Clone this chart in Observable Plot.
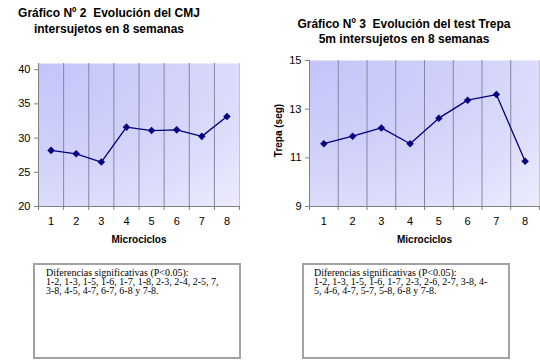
<!DOCTYPE html>
<html><head><meta charset="utf-8">
<script src="https://cdn.jsdelivr.net/npm/d3@7"></script>
<script src="https://cdn.jsdelivr.net/npm/@observablehq/plot@0.6"></script>
<style>
body{margin:0;background:#fff;}
#root{position:relative;width:540px;height:362px;overflow:hidden;background:#fff;font-family:"Liberation Sans",Arial,sans-serif;color:#000;}
#root svg{position:absolute;top:0;}
.title{position:absolute;font-weight:bold;font-size:12px;text-align:center;white-space:pre;}
.box{position:absolute;border:2px solid #a2a2a2;box-sizing:border-box;font-family:"Liberation Serif","Times New Roman",serif;font-size:10px;line-height:9.2px;white-space:pre;}
</style></head><body><div id="root"></div>
<script>
// ---- data ----
const categories = [1, 2, 3, 4, 5, 6, 7, 8];
const cmjValues = [28.2, 27.7, 26.5, 31.6, 31.1, 31.2, 30.25, 33.15];
const trepaValues = [11.58, 11.89, 12.23, 11.58, 12.63, 13.37, 13.6, 10.86];
const cmjTicks = [20, 25, 30, 35, 40];
const trepaTicks = [9, 11, 13, 15];
const cmjTitle = ["Gráfico Nº 2  Evolución del CMJ", "intersujetos en 8 semanas"];
const trepaTitle = ["Gráfico Nº 3  Evolución del test Trepa", "5m intersujetos en 8 semanas"];
const xLabel = "Microciclos";
const trepaYLabel = "Trepa (seg)";
const cmjNotes = ["Diferencias significativas (P<0.05):", "1-2, 1-3, 1-5, 1-6, 1-7, 1-8, 2-3, 2-4, 2-5, 7,", "3-8, 4-5, 4-7, 6-7, 6-8 y 7-8."];
const trepaNotes = ["Diferencias significativas (P<0.05):", "1-2, 1-3, 1-5, 1-6, 1-7, 2-3, 2-6, 2-7, 3-8, 4-", "5, 4-6, 4-7, 5-7, 5-8, 6-8 y 7-8."];

const root = document.getElementById("root");

function chart({values, yDomain, yTicks, margins, gradId, yLabel, left}) {
  const data = categories.map((c, i) => ({c, v: values[i]}));
  const bounds = [categories[0] - 0.5, ...categories.map(c => c + 0.5)];
  const inner = bounds.slice(1, -1);
  const marks = [
    Plot.frame({fill: `url(#${gradId})`, stroke: null}),
    Plot.ruleX(inner, {stroke: "#8686a0", strokeWidth: 1}),
    Plot.ruleX([bounds[bounds.length - 1]], {stroke: "#c4c4c4"}),
    Plot.ruleX([bounds[0]], {stroke: "#808080"}),
    Plot.ruleY([yDomain[0]], {stroke: "#808080"}),
    Plot.axisY({ticks: yTicks, tickSize: 4, tickPadding: 4, tickFormat: d3.format("d"), label: null, stroke: "#808080", fill: "#000"}),
    Plot.axisX({ticks: bounds, tickSize: 4, tickFormat: () => "", label: null, stroke: "#808080"}),
    Plot.axisX({ticks: categories, tickSize: 0, tickPadding: 11, tickFormat: d3.format("d"), label: null, fill: "#000"}),
    Plot.line(data, {x: "c", y: "v", stroke: "#000080", strokeWidth: 1.3}),
    Plot.dot(data, {x: "c", y: "v", symbol: "diamond2", r: 3.4, fill: "#000080", stroke: null}),
    Plot.text([xLabel], {text: d => d, frameAnchor: "bottom", dy: 33, lineAnchor: "middle", fontWeight: "bold", fontSize: 10, fill: "#000"})
  ];
  if (yLabel) {
    marks.push(Plot.text([yLabel], {text: d => d, frameAnchor: "left", dx: -31, dy: -3, rotate: -90, textAnchor: "middle", lineAnchor: "middle", fontWeight: "bold", fontSize: 10, fill: "#000"}));
  }
  const p = Plot.plot({
    width: 270, height: 250,
    ...margins,
    x: {domain: [bounds[0], bounds[bounds.length - 1]]},
    y: {domain: yDomain},
    style: {fontFamily: "'Liberation Sans', Arial, sans-serif", fontSize: "11px", background: "transparent", overflow: "visible", color: "#000"},
    marks
  });
  d3.select(p).insert("defs", ":first-child").html(
    `<radialGradient id="${gradId}" cx="0" cy="0" fx="0" fy="0" r="1.45">
       <stop offset="0" stop-color="#c4c4fa"/>
       <stop offset="0.4" stop-color="#cfcffa"/>
       <stop offset="0.7" stop-color="#dcdcfb"/>
       <stop offset="1" stop-color="#eeeefd"/>
     </radialGradient>`);
  p.style.left = left + "px";
  root.appendChild(p);
}

chart({values: cmjValues, yDomain: [20, 40.9], yTicks: cmjTicks,
  margins: {marginLeft: 38, marginRight: 31, marginTop: 63, marginBottom: 44},
  gradId: "g1", yLabel: null, left: 0});
chart({values: trepaValues, yDomain: [9, 15], yTicks: trepaTicks,
  margins: {marginLeft: 39, marginRight: 1, marginTop: 60, marginBottom: 44},
  gradId: "g2", yLabel: trepaYLabel, left: 270});

function addTitle(lines, left, top, width, lh) {
  const d = document.createElement("div");
  d.className = "title";
  Object.assign(d.style, {left: left + "px", top: top + "px", width: width + "px", lineHeight: lh + "px"});
  d.textContent = lines.join("\n");
  root.appendChild(d);
}
addTitle(cmjTitle, 0, 5, 218, 16);
addTitle(trepaTitle, 279, 17, 250, 15);

function addBox(lines, left, padLeft) {
  const d = document.createElement("div");
  d.className = "box";
  Object.assign(d.style, {left: left + "px", top: "263px", width: "208px", height: "96px", paddingLeft: padLeft + "px", paddingTop: "3px"});
  d.textContent = lines.join("\n");
  root.appendChild(d);
}
addBox(cmjNotes, 33, 11);
addBox(trepaNotes, 302, 10);
</script></body></html>
